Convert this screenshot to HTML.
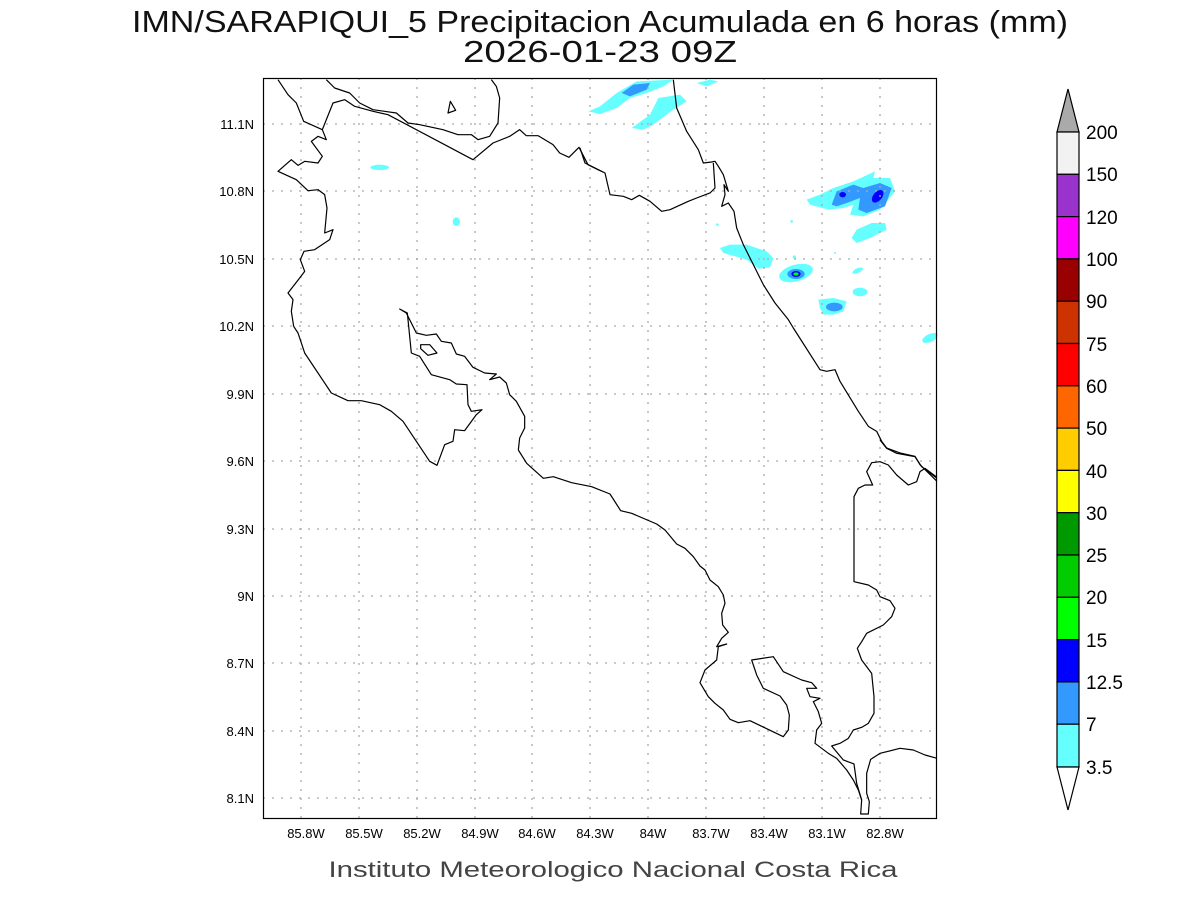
<!DOCTYPE html>
<html><head><meta charset="utf-8"><style>
html,body{margin:0;padding:0;background:#fff;}
svg{display:block;}
text{font-family:"Liberation Sans","DejaVu Sans",sans-serif;}
</style></head><body>
<svg width="1200" height="900" viewBox="0 0 1200 900" xmlns="http://www.w3.org/2000/svg">
<rect width="1200" height="900" fill="#fff"/>
<text x="600" y="32" font-size="31" text-anchor="middle" textLength="936" lengthAdjust="spacingAndGlyphs" fill="#111">IMN/SARAPIQUI_5 Precipitacion Acumulada en 6 horas (mm)</text>
<text x="600" y="62" font-size="31" text-anchor="middle" textLength="274" lengthAdjust="spacingAndGlyphs" fill="#111">2026-01-23 09Z</text>

<g transform="translate(580,78) scale(0.33333)">
<path d="M25,100 L60,85 L110,45 L170,10 L280,5 L250,25 L200,45 L150,60 L110,90 L60,108 Z" fill="#66ffff"/>
<path d="M125,45 L160,20 L210,15 L200,35 L150,55 Z" fill="#3399ff"/>
<path d="M155,150 L210,110 L235,60 L300,50 L320,70 L280,95 L220,140 L190,155 Z" fill="#66ffff"/>
<path d="M350,15 L390,5 L415,10 L380,25 Z" fill="#66ffff"/>
<path d="M680,365 L720,350 L760,330 L820,310 L885,280 L880,300 L930,300 L945,340 L900,395 L850,415 L810,410 L820,380 L790,390 L745,395 L690,380 Z" fill="#66ffff"/>
<path d="M755,380 L770,340 L820,320 L850,330 L900,315 L935,330 L915,385 L860,405 L835,395 L840,360 L800,375 L770,385 Z" fill="#3399ff"/>
<ellipse cx="788" cy="350" rx="10" ry="8" fill="#0000ff"/>
<ellipse cx="893" cy="355" rx="13" ry="22" transform="rotate(40 893 355)" fill="#0000ff"/>
<path d="M815,480 L830,455 L875,435 L915,435 L920,455 L870,480 L830,495 Z" fill="#66ffff"/>
<path d="M420,510 L450,500 L500,500 L560,520 L580,540 L570,568 L535,572 L500,545 L430,525 Z" fill="#66ffff"/>
<ellipse cx="648" cy="585" rx="52" ry="25" transform="rotate(-15 648 585)" fill="#66ffff"/>
<ellipse cx="648" cy="588" rx="26" ry="15" fill="#3399ff"/>
<ellipse cx="648" cy="588" rx="14" ry="9" fill="#0000ff"/>
<ellipse cx="648" cy="588" rx="8" ry="5" fill="#00ff00"/>
<path d="M715,665 L760,660 L800,670 L790,700 L760,710 L730,710 L720,690 Z" fill="#66ffff"/>
<ellipse cx="763" cy="687" rx="25" ry="13" fill="#3399ff"/>
<ellipse cx="833" cy="578" rx="17" ry="7" transform="rotate(-25 833 578)" fill="#66ffff"/>
<ellipse cx="840" cy="642" rx="22" ry="13" fill="#66ffff"/>
<ellipse cx="1050" cy="780" rx="25" ry="12" transform="rotate(-25 1050 780)" fill="#66ffff"/>
<circle cx="412" cy="440" r="4" fill="#66ffff"/><circle cx="635" cy="430" r="4" fill="#66ffff"/>
<circle cx="643" cy="537" r="5" fill="#66ffff"/><circle cx="765" cy="525" r="3" fill="#66ffff"/>
</g>
<g transform="translate(263,78) scale(0.33333)">
<ellipse cx="350" cy="268" rx="28" ry="8" fill="#66ffff"/>
<ellipse cx="580" cy="431" rx="11" ry="13" fill="#66ffff"/>
</g>

<g stroke="#aaa" stroke-width="1.3" stroke-dasharray="2,7">
<path d="M301,78V818 M359,78V818 M417,78V818 M475,78V818 M532,78V818 M590,78V818 M648,78V818 M706,78V818 M764,78V818 M822,78V818 M880,78V818"/>
<path d="M263,124H937 M263,191H937 M263,259H937 M263,326H937 M263,394H937 M263,461H937 M263,529H937 M263,596H937 M263,663H937 M263,731H937 M263,798H937"/>
</g>

<g fill="none" stroke="#000" stroke-width="1.2" stroke-linejoin="round">
<g transform="translate(263,78) scale(0.33333)">
<path vector-effect="non-scaling-stroke" d="M45,5 L75,50 L100,75 L122,130 L178,155 L210,75 L245,65 L275,85 L330,100 L375,110 L630,245 L690,195 L740,175 L770,155 L790,173 L825,173 L870,200 L890,225 L918,238 L948,208 L975,260 L1005,275 L1020,282"/>
<path vector-effect="non-scaling-stroke" d="M190,5 L215,30 L260,45 L290,75 L330,95 L400,105 L435,135 L470,140 L540,155 L585,170 L625,170 L645,185 L680,175 L705,135 L710,60 L700,25 L685,5"/>
<path vector-effect="non-scaling-stroke" d="M178,155 L190,185 L165,175 L145,190 L178,235 L165,255 L125,250 L105,262 L85,245 L45,280 L100,305 L135,338 L165,335 L185,350 L192,390 L185,465 L210,455 L200,485 L155,515 L123,520 L112,545 L125,580 L110,600 L75,645 L90,665 L85,700 L92,745 L105,765 L125,825 L205,945 L255,968 L295,968 L350,980 L385,1000 L420,1030 L500,1150 L522,1162 L545,1100 L570,1090 L575,1055 L605,1058 L640,1010 L657,995 L625,1000 L615,980 L612,920 L580,918 L560,905 L505,890 L470,835 L445,825 L433,705 L410,693 L430,705 L460,765 L490,772 L520,768 L535,790 L565,795 L580,828 L605,835 L630,868 L665,885 L700,888 L680,905 L710,897 L730,915 L740,950 L760,970 L785,1015 L785,1050 L770,1080 L766,1116"/>
<path vector-effect="non-scaling-stroke" d="M473,800 L500,800 L522,825 L495,832 L473,812 Z"/>
<path vector-effect="non-scaling-stroke" d="M555,105 L562,70 L578,97 Z"/>
</g>
<g transform="translate(580,78) scale(0.33333)">
<path vector-effect="non-scaling-stroke" d="M280,5 L290,90 L320,160 L355,215 L370,255 L395,252 L405,250 L415,265 L430,290 L445,340 L432,320 L435,350 L425,385 L445,375 L462,400 L470,450 L490,500 L520,560 L540,600 L550,620 L585,675 L625,725 L640,750 L720,875 L740,880 L765,875 L780,910 L835,1000 L865,1045 L890,1060 L905,1090 L920,1110 L960,1125 L1005,1135 L1020,1160 L1071,1210"/>
<path vector-effect="non-scaling-stroke" d="M0,210 L15,255 L75,285 L90,350 L130,355 L155,365 L178,352 L210,370 L245,400 L270,395 L325,370 L350,360 L390,345 L405,330 L400,255"/>
</g>
<g transform="translate(500,440) scale(0.33333)">
<path vector-effect="non-scaling-stroke" d="M55,30 L80,70 L130,115 L160,110 L215,128 L275,140 L330,162 L362,212 L395,220 L470,252 L495,270 L530,312 L555,325 L580,350 L600,378 L615,390 L630,420 L655,440 L670,465 L675,490 L665,520 L668,555 L685,577 L665,595 L650,620 L680,612 L655,620 L650,660 L615,690 L600,728 L625,770 L645,790 L670,810 L690,838 L715,848 L750,842 L850,890 L865,870 L868,825 L860,795 L840,768 L790,745 L770,705 L755,660 L820,650 L850,695 L905,720 L935,728 L950,745 L920,745 L930,770 L960,775 L940,785 L955,815 L965,850 L950,870 L945,910 L985,940 L1010,955 L1040,990 L1060,1020 L1075,1050 L1085,1080 L1082,1122 L1105,1122 L1108,1085 L1100,1060 L1100,1000 L1112,958 L1140,940 L1200,925 L1240,930 L1275,945 L1311,955"/>
<path vector-effect="non-scaling-stroke" d="M1085,1080 L1070,1030 L1062,972 L1030,960 L995,918 L1020,910 L1045,895 L1060,870 L1085,862 L1105,850 L1122,820 L1122,770 L1115,700 L1085,660 L1072,625 L1085,605 L1100,580 L1150,555 L1175,530 L1185,505 L1170,482 L1140,470 L1130,450 L1105,435 L1062,425 L1062,170 L1075,145 L1095,135 L1118,135 L1100,95 L1115,68 L1140,65 L1165,75 L1190,105 L1225,135 L1250,125 L1260,95 L1275,85 L1311,112"/>
<path vector-effect="non-scaling-stroke" d="M1140,0 L1160,25 L1190,40 L1245,50 L1265,80 L1311,115"/>
</g>
</g>
<rect x="263.5" y="78.5" width="673" height="740" fill="none" stroke="#000" stroke-width="1.2"/>

<g font-size="13" fill="#000" text-anchor="middle">
<text x="306" y="838">85.8W</text><text x="364" y="838">85.5W</text><text x="422" y="838">85.2W</text><text x="480" y="838">84.9W</text><text x="537" y="838">84.6W</text><text x="595" y="838">84.3W</text><text x="653" y="838">84W</text><text x="711" y="838">83.7W</text><text x="769" y="838">83.4W</text><text x="827" y="838">83.1W</text><text x="885" y="838">82.8W</text>
</g>
<g font-size="13" fill="#000" text-anchor="end">
<text x="254" y="129">11.1N</text><text x="254" y="196">10.8N</text><text x="254" y="264">10.5N</text><text x="254" y="331">10.2N</text><text x="254" y="399">9.9N</text><text x="254" y="466">9.6N</text><text x="254" y="534">9.3N</text><text x="254" y="601">9N</text><text x="254" y="668">8.7N</text><text x="254" y="736">8.4N</text><text x="254" y="803">8.1N</text>
</g>
<text x="613" y="877" font-size="22" text-anchor="middle" textLength="569" lengthAdjust="spacingAndGlyphs" fill="#444">Instituto Meteorologico Nacional Costa Rica</text>

<g stroke="#000" stroke-width="1.2">
<path d="M1057,132 L1068,89 L1079,132 Z" fill="#aaaaaa"/>
<rect x="1057" y="132" width="22" height="42.3" fill="#f2f2f2"/>
<rect x="1057" y="174.3" width="22" height="42.3" fill="#9933cc"/>
<rect x="1057" y="216.6" width="22" height="42.3" fill="#ff00ff"/>
<rect x="1057" y="258.9" width="22" height="42.3" fill="#990000"/>
<rect x="1057" y="301.2" width="22" height="42.3" fill="#cc3300"/>
<rect x="1057" y="343.5" width="22" height="42.3" fill="#ff0000"/>
<rect x="1057" y="385.8" width="22" height="42.3" fill="#ff6600"/>
<rect x="1057" y="428.1" width="22" height="42.3" fill="#ffcc00"/>
<rect x="1057" y="470.4" width="22" height="42.3" fill="#ffff00"/>
<rect x="1057" y="512.7" width="22" height="42.3" fill="#009900"/>
<rect x="1057" y="555" width="22" height="42.3" fill="#00cc00"/>
<rect x="1057" y="597.3" width="22" height="42.3" fill="#00ff00"/>
<rect x="1057" y="639.6" width="22" height="42.3" fill="#0000ff"/>
<rect x="1057" y="681.9" width="22" height="42.3" fill="#3399ff"/>
<rect x="1057" y="724.2" width="22" height="42.8" fill="#66ffff"/>
<path d="M1057,767 L1068,810 L1079,767 Z" fill="#fff"/>
</g>
<g font-size="19" fill="#000">
<text x="1086" y="139">200</text><text x="1086" y="181">150</text><text x="1086" y="224">120</text><text x="1086" y="266">100</text><text x="1086" y="308">90</text><text x="1086" y="351">75</text><text x="1086" y="393">60</text><text x="1086" y="435">50</text><text x="1086" y="478">40</text><text x="1086" y="520">30</text><text x="1086" y="562">25</text><text x="1086" y="604">20</text><text x="1086" y="647">15</text><text x="1086" y="689">12.5</text><text x="1086" y="731">7</text><text x="1086" y="774">3.5</text>
</g>
</svg>
</body></html>
